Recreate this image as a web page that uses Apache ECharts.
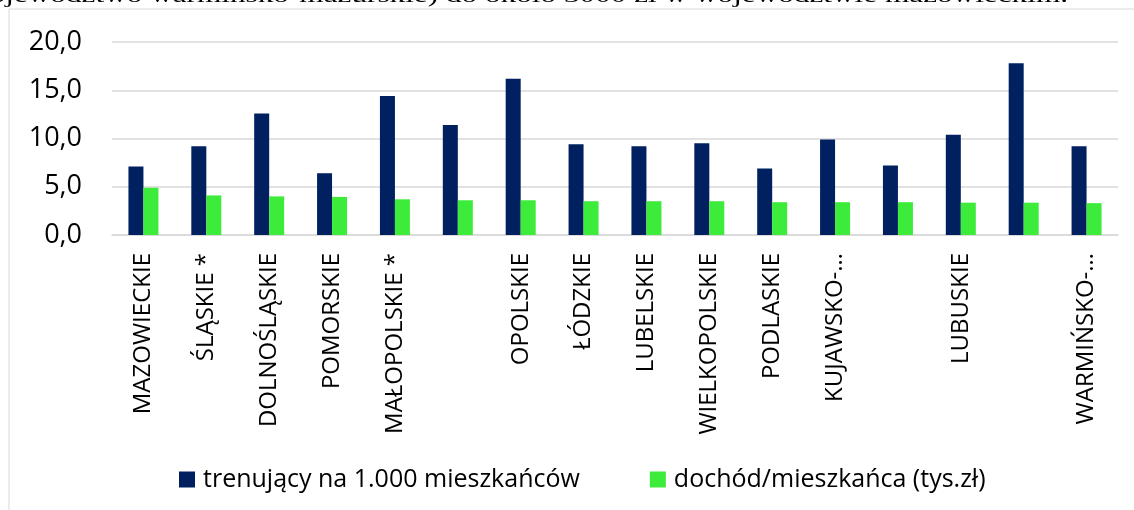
<!DOCTYPE html>
<html>
<head>
<meta charset="utf-8">
<script src="https://cdn.jsdelivr.net/npm/echarts@6/dist/echarts.min.js"></script>
<style>
  html, body { margin: 0; padding: 0; background: #fff; }
  #chart { width: 1134px; height: 510px; }
</style>
</head>
<body>
<div id="chart"></div>
<script>
// województwa (puste etykiety tak jak na oryginale)
const categories = [
  'MAZOWIECKIE', 'ŚLĄSKIE *', 'DOLNOŚLĄSKIE', 'POMORSKIE', 'MAŁOPOLSKIE *', '',
  'OPOLSKIE', 'ŁÓDZKIE', 'LUBELSKIE', 'WIELKOPOLSKIE', 'PODLASKIE', 'KUJAWSKO-…',
  '', 'LUBUSKIE', '', 'WARMIŃSKO-…'
]
const trenujacy = [7.1, 9.2, 12.6, 6.4, 14.4, 11.4, 16.2, 9.4, 9.2, 9.5, 6.9, 9.9, 7.2, 10.4, 17.8, 9.2]
const dochod = [4.9, 4.1, 4.0, 3.95, 3.7, 3.6, 3.6, 3.5, 3.5, 3.5, 3.4, 3.4, 3.4, 3.35, 3.35, 3.3]
const seriesNames = ['trenujący na 1.000 mieszkańców', 'dochód/mieszkańca (tys.zł)']
const yTicks = {min: 0, max: 20, interval: 5}
const headerText = 'województwo warmińsko-mazurskie) do około 3000 zł w województwie mazowieckim.'

const chartInstance = echarts.init(document.getElementById('chart'))

const option = {
  animation: false,
  grid: {left: 112, right: 16, top: 42, bottom: 275},
  graphic: [
    {
      type: 'rect',
      shape: {x: 9, y: 9, width: 1200, height: 600},
      style: {fill: 'none', stroke: '#d9d9d9', lineWidth: 1},
      silent: true
    },
    {
      // fragment tekstu dokumentu nad wykresem (ucięty u góry)
      type: 'text',
      x: 1068,
      y: 7,
      scaleX: 1.42,
      style: {
        text: headerText,
        font: '22px "Liberation Serif"',
        fill: '#000',
        align: 'right',
        verticalAlign: 'bottom'
      }
    }
  ],
  legend: {
    data: seriesNames,
    left: 174,
    top: 462,
    icon: 'rect',
    itemWidth: 16,
    itemHeight: 16,
    itemGap: 70,
    textStyle: {fontFamily: 'Open Sans', fontSize: 25, color: '#000', padding: [0, 0, 0, 3]}
  },
  xAxis: {
    type: 'category',
    data: categories,
    axisLine: {lineStyle: {color: '#d9d9d9', width: 1.5}},
    axisTick: {show: false},
    axisLabel: {
      interval: 0,
      rotate: 90,
      margin: 18,
      fontFamily: 'Open Sans',
      fontSize: 24,
      color: '#000'
    }
  },
  yAxis: {
    type: 'value',
    min: yTicks.min,
    max: yTicks.max,
    interval: yTicks.interval,
    axisLine: {show: false},
    axisTick: {show: false},
    splitLine: {lineStyle: {color: '#d9d9d9', width: 1.5}},
    axisLabel: {
      margin: 30,
      fontFamily: 'Open Sans',
      fontSize: 27,
      color: '#000',
      formatter: v => v.toFixed(1).replace('.', ',')
    }
  },
  series: [
    {
      name: seriesNames[0],
      type: 'bar',
      data: trenujacy,
      barWidth: 15,
      barGap: '0%',
      itemStyle: {color: '#002060'}
    },
    {
      name: seriesNames[1],
      type: 'bar',
      data: dochod,
      barWidth: 15,
      barGap: '0%',
      itemStyle: {color: '#3deb3a'}
    }
  ]
}

chartInstance.setOption(option)
</script>
</body>
</html>
